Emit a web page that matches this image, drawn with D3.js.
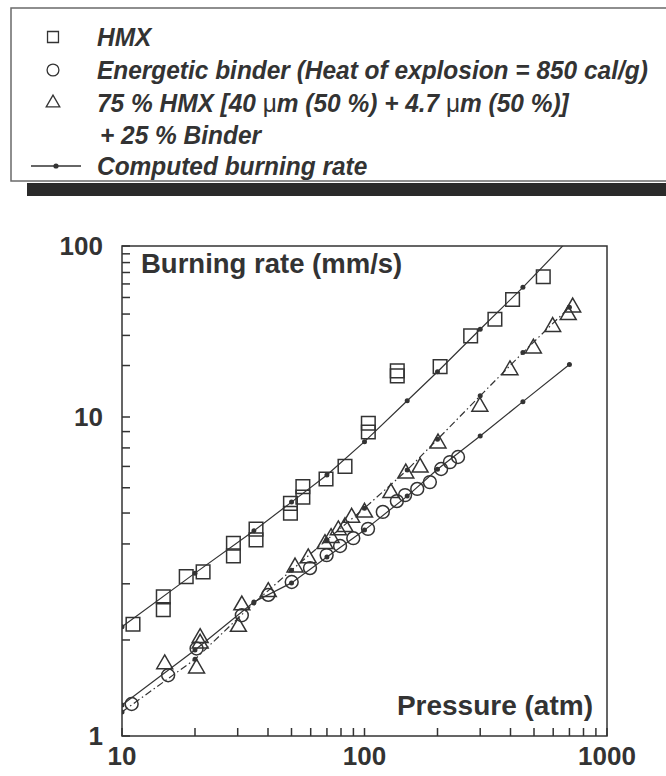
<!DOCTYPE html>
<html>
<head>
<meta charset="utf-8">
<script src="https://cdn.jsdelivr.net/npm/d3@7"></script>
<style>
  body { margin: 0; background: #fff; }
  svg { display: block; }
</style>
</head>
<body>
<svg id="chart" width="666" height="776"></svg>
<script>
// ---- measured burning rates (pressure in atm, rate in mm/s) ----
const hmxPressure = [11.1, 14.8, 14.8, 18.4, 21.6, 28.8, 28.8, 35.7, 35.7, 49.5, 49.5, 55.7, 55.7, 69.4, 83.1, 103.7, 103.7, 136.5, 136.5, 205, 274, 345, 408, 546];
const hmxRate     = [2.24, 2.73, 2.49, 3.16, 3.27, 4.02, 3.67, 4.45, 4.12, 5.36, 4.99, 6.05, 5.61, 6.39, 7.0, 9.56, 8.97, 18.6, 17.4, 19.7, 29.8, 37.3, 48.7, 66.1];

const binderPressure = [10.96, 15.5, 20.3, 31.2, 40.1, 50.1, 59.6, 69.8, 79.3, 89.9, 103.4, 119, 136, 147, 165, 186, 207, 225, 243];
const binderRate     = [1.26, 1.55, 1.88, 2.39, 2.77, 3.04, 3.36, 3.69, 3.94, 4.17, 4.46, 5.04, 5.45, 5.69, 5.95, 6.25, 6.87, 7.22, 7.49];

const mixPressure = [15.0, 20.3, 21.0, 21.0, 30.2, 31.2, 40.1, 51.7, 58.6, 68.7, 72.8, 78.0, 83.1, 88.5, 100, 128.5, 148, 169.5, 201, 299, 398, 497, 597, 692, 722];
const mixRate     = [1.68, 1.63, 2.03, 1.95, 2.20, 2.57, 2.83, 3.38, 3.61, 4.0, 4.18, 4.42, 4.52, 4.84, 5.02, 5.78, 6.66, 6.95, 8.27, 11.5, 18.8, 25.2, 33.7, 39.5, 43.8];

// ---- computed burning rates ----
const computedPressure = [10, 20, 35, 50, 70, 100, 150, 200, 300, 450, 700];
const computedHMX      = [2.20, 3.24, 4.40, 5.41, 6.58, 8.37, 12.45, 18.4, 32.6, 57.3, 110];
const computedBinder   = [1.25, 1.86, 2.63, 3.02, 3.64, 4.42, 5.65, 6.86, 8.72, 12.3, 20.3];
const computedMix      = [1.19, 1.74, 2.61, 3.31, 4.12, 5.18, 6.82, 8.51, 13.3, 23.8, 43.8];

// ---- axis labels ----
const xLabelValues = [10, 100, 1000];
const yLabelValues = [1, 10, 100];
const yTitle = "Burning rate (mm/s)";
const xTitle = "Pressure (atm)";

const legendLabels = [
  "HMX",
  "Energetic binder (Heat of explosion = 850 cal/g)",
  "75 % HMX [40 \u03bcm (50 %) + 4.7 \u03bcm (50 %)]",
  "+ 25 % Binder",
  "Computed burning rate"
];

// ---- drawing ----
const ink = "#333";
const svg = d3.select("#chart");

const plot = { left: 122, right: 607, top: 246, bottom: 736 };
const x = d3.scaleLog().domain([10, 1000]).range([plot.left, plot.right]);
const y = d3.scaleLog().domain([1, 10, 100]).range([plot.bottom, 417, plot.top]);

const numFont = "'Liberation Sans', Arial, Helvetica, sans-serif";

// clip region for the plot interior
svg.append("defs").append("clipPath").attr("id", "plotClip")
  .append("rect")
  .attr("x", plot.left).attr("y", plot.top)
  .attr("width", plot.right - plot.left).attr("height", plot.bottom - plot.top);

// frame
svg.append("rect")
  .attr("x", plot.left).attr("y", plot.top)
  .attr("width", plot.right - plot.left).attr("height", plot.bottom - plot.top)
  .attr("fill", "none").attr("stroke", ink).attr("stroke-width", 1.5);

// inward ticks on the bottom and left axes
const tickLen = 8;
const tickGroup = svg.append("g");
tickGroup.selectAll(null).data(x.ticks()).enter().append("line")
  .attr("x1", d => x(d)).attr("x2", d => x(d))
  .attr("y1", plot.bottom).attr("y2", plot.bottom - tickLen)
  .attr("stroke", ink).attr("stroke-width", 1.5);
tickGroup.selectAll(null).data(y.ticks()).enter().append("line")
  .attr("y1", d => y(d)).attr("y2", d => y(d))
  .attr("x1", plot.left).attr("x2", plot.left + tickLen)
  .attr("stroke", ink).attr("stroke-width", 1.5);

// tick labels at the decades
const labelStyle = sel => sel
  .attr("fill", ink)
  .style("font-family", numFont)
  .style("font-weight", "bold")
  .style("font-size", "26px");

svg.selectAll(null).data(xLabelValues).enter().append("text")
  .attr("x", d => x(d)).attr("y", plot.bottom + 11)
  .attr("dy", "0.71em")
  .attr("text-anchor", "middle")
  .call(labelStyle)
  .text(d => d3.format("d")(d));

svg.selectAll(null).data(yLabelValues).enter().append("text")
  .attr("x", plot.left - 19).attr("y", d => y(d))
  .attr("dy", "0.35em")
  .attr("text-anchor", "end")
  .call(labelStyle)
  .text(d => d3.format("d")(d));

// axis titles inside the frame
svg.append("text")
  .attr("x", 141).attr("y", 273)
  .attr("fill", ink)
  .style("font-family", numFont).style("font-weight", "bold").style("font-size", "27.5px")
  .text(yTitle);

svg.append("text")
  .attr("x", 593).attr("y", 715)
  .attr("text-anchor", "end")
  .attr("fill", ink)
  .style("font-family", numFont).style("font-weight", "bold").style("font-size", "28px")
  .text(xTitle);

const inner = svg.append("g").attr("clip-path", "url(#plotClip)");

// computed curves
const line = d3.line().x(d => x(d[0])).y(d => y(d[1]));
const curves = [
  { rate: computedHMX, dash: null },
  { rate: computedBinder, dash: null },
  { rate: computedMix, dash: "7,3,1.5,3" }
];
curves.forEach(c => {
  const pts = computedPressure.map((p, i) => [p, c.rate[i]]);
  inner.append("path")
    .attr("d", line(pts))
    .attr("fill", "none")
    .attr("stroke", ink)
    .attr("stroke-width", 1.2)
    .attr("stroke-dasharray", c.dash);
  inner.selectAll(null).data(pts).enter().append("circle")
    .attr("cx", d => x(d[0])).attr("cy", d => y(d[1]))
    .attr("r", 2.5).attr("fill", ink);
});

// measured points
const series = [
  { p: hmxPressure, r: hmxRate, type: d3.symbolSquare, size: 185 },
  { p: binderPressure, r: binderRate, type: d3.symbolCircle, size: 130 },
  { p: mixPressure, r: mixRate, type: d3.symbolTriangle, size: 110 }
];
series.forEach(s => {
  const sym = d3.symbol().type(s.type).size(s.size);
  inner.selectAll(null).data(s.p.map((p, i) => [p, s.r[i]])).enter().append("path")
    .attr("d", sym)
    .attr("transform", d => `translate(${x(d[0])},${y(d[1])})`)
    .attr("fill", "none")
    .attr("stroke", ink)
    .attr("stroke-width", 1.5);
});

// ---- legend box ----
const legend = svg.append("g");
legend.append("rect")
  .attr("x", 11).attr("y", 8).attr("width", 720).attr("height", 173)
  .attr("fill", "none").attr("stroke", "#6a6a6a").attr("stroke-width", 1.5);
legend.append("rect")
  .attr("x", 27).attr("y", 183).attr("width", 700).attr("height", 13)
  .attr("fill", "#2a2a2a");

const rowY = [37, 70, 103, 135, 166];
const symX = 53;
const textX = 97;
const legendFont = "'Liberation Sans Narrow', 'Arial Narrow', 'Liberation Sans', Arial, sans-serif";

const legendSymbols = [d3.symbolSquare, d3.symbolCircle, d3.symbolTriangle];
legendSymbols.forEach((t, i) => {
  legend.append("path")
    .attr("d", d3.symbol().type(t).size(i === 2 ? 80 : (i === 0 ? 120 : 110))())
    .attr("transform", `translate(${symX},${rowY[i]})`)
    .attr("fill", "none").attr("stroke", ink).attr("stroke-width", 1.3);
});
legend.append("line")
  .attr("x1", 31).attr("x2", 81).attr("y1", rowY[4]).attr("y2", rowY[4])
  .attr("stroke", ink).attr("stroke-width", 1.3);
legend.append("circle").attr("cx", symX + 3).attr("cy", rowY[4]).attr("r", 2.6).attr("fill", ink);

const legendTexts = legendLabels.map((label, i) => {
  const t = legend.append("text")
    .attr("x", 0).attr("y", 0)
    .attr("fill", ink)
    .style("font-family", legendFont)
    .style("font-weight", "bold")
    .style("font-style", "italic")
    .style("font-size", "25px");
  // micro sign is set upright
  label.split(/(\u03bc)/).forEach(part => {
    if (!part) return;
    const ts = t.append("tspan").text(part);
    if (part === "\u03bc") ts.style("font-style", "normal").style("font-weight", "normal");
  });
  return t;
});

// condense the legend lettering to the box width
const widest = legendTexts[1].node().getComputedTextLength();
const k = 551 / widest;
legendTexts.forEach((t, i) => {
  t.attr("transform", `translate(${i === 3 ? textX + 3 : textX},${rowY[i] + 9}) scale(${k},1)`);
});
</script>
</body>
</html>
